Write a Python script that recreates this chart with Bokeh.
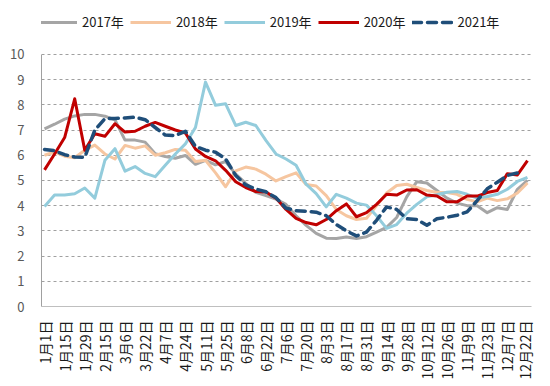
import math
from bokeh.plotting import figure
from bokeh.models import FixedTicker, Legend, LegendItem, Range1d
from bokeh.embed import file_html
from bokeh.resources import INLINE

date_labels = ["1月1日", "1月15日", "1月29日", "2月15日", "3月6日", "3月22日", "4月7日",
               "4月24日", "5月11日", "5月25日", "6月8日", "6月22日", "7月6日", "7月20日",
               "8月3日", "8月17日", "8月31日", "9月14日", "9月28日", "10月12日", "10月26日",
               "11月9日", "11月23日", "12月7日", "12月22日"]

y2017 = [7.05, 7.23, 7.43, 7.56, 7.62, 7.62, 7.55, 7.4, 6.6, 6.6, 6.52, 6.06, 5.95, 5.88,
         5.99, 5.64, 5.8, 5.62, 5.75, 5.25, 4.88, 4.53, 4.4, 4.26, 4.05, 3.6, 3.22, 2.9,
         2.71, 2.7, 2.76, 2.7, 2.77, 2.95, 3.14, 3.53, 4.35, 4.95, 4.9, 4.6, 4.3, 4.1, 4.0,
         4.0, 3.72, 3.92, 3.85, 4.65, 5.0]
y2018 = [6.0, 6.13, 5.96, 5.9, 6.2, 6.4, 6.05, 5.85, 6.39, 6.28, 6.37, 6.0, 6.1, 6.23, 6.2,
         5.75, 5.8, 5.3, 4.75, 5.38, 5.53, 5.45, 5.25, 4.98, 5.15, 5.3, 4.84, 4.78, 4.4,
         3.85, 3.6, 3.45, 3.5, 4.0, 4.5, 4.8, 4.85, 4.72, 4.6, 4.52, 4.52, 4.45, 4.25, 4.15,
         4.3, 4.2, 4.27, 4.5, 4.9]
y2019 = [3.97, 4.42, 4.42, 4.47, 4.7, 4.3, 5.8, 6.26, 5.37, 5.55, 5.28, 5.15, 5.6, 6.05,
         6.45, 7.1, 8.9, 7.98, 8.04, 7.18, 7.31, 7.18, 6.59, 6.05, 5.85, 5.6, 4.85, 4.48,
         3.95, 4.45, 4.3, 4.1, 4.02, 3.6, 3.1, 3.25, 3.7, 4.05, 4.35, 4.43, 4.53, 4.56, 4.45,
         4.3, 4.36, 4.45, 4.65, 4.96, 5.12]
y2020 = [5.42, 6.05, 6.7, 8.24, 6.2, 6.85, 6.75, 7.25, 6.92, 6.95, 7.15, 7.3, 7.15, 7.0,
         6.88, 6.25, 5.95, 5.78, 5.4, 4.95, 4.72, 4.56, 4.54, 4.3, 3.85, 3.5, 3.33, 3.24,
         3.45, 3.8, 4.07, 3.56, 3.72, 4.05, 4.45, 4.42, 4.62, 4.63, 4.42, 4.38, 4.15, 4.15,
         4.38, 4.38, 4.52, 4.6, 5.27, 5.22, 5.79]
y2021 = [6.23, 6.18, 6.02, 5.93, 5.92, 7.0, 7.45, 7.46, 7.48, 7.51, 7.41, 7.1, 6.8, 6.78,
         6.95, 6.35, 6.2, 6.12, 5.85, 5.2, 4.82, 4.66, 4.55, 4.32, 3.9, 3.8, 3.78, 3.74,
         3.6, 3.25, 3.0, 2.8, 2.95, 3.42, 3.95, 3.85, 3.48, 3.45, 3.22, 3.48, 3.54, 3.62,
         3.75, 4.2, 4.67, 4.93, 5.2, 5.3, float("nan")]

series_names = ["2017年", "2018年", "2019年", "2020年", "2021年"]

n = len(y2017)
xs = list(range(n))
FONT = "Noto Sans CJK SC"

# frame extends above the value 10 so the legend sits inside it
p = figure(width=534, height=386, output_backend="svg", toolbar_location=None,
           x_range=Range1d(-0.3, n - 1 + 0.4), y_range=Range1d(0, 11.82),
           min_border_left=41, min_border_right=3, min_border_top=8,
           min_border_bottom=80)
p.outline_line_color = None
p.background_fill_color = "white"

r1 = p.line(xs, y2017, line_color="#A5A5A5", line_width=3, line_join="round")
r2 = p.line(xs, y2018, line_color="#F6C6A0", line_width=3, line_join="round")
r3 = p.line(xs, y2019, line_color="#93CCDC", line_width=3, line_join="round")
r4 = p.line(xs, y2020, line_color="#C00000", line_width=3, line_join="round")
r5 = p.line(xs, y2021, line_color="#1F4E79", line_width=3.5, line_dash="9 6",
            line_join="round", line_cap="round")

# axes
p.xaxis.ticker = FixedTicker(ticks=list(range(0, n, 2)))
p.xaxis.major_label_overrides = {i * 2: lab for i, lab in enumerate(date_labels)}
p.xaxis.major_label_orientation = math.pi / 2
p.xaxis.major_tick_line_color = None
p.xaxis.minor_tick_line_color = None
p.xaxis.axis_line_color = "#BFBFBF"
p.xaxis.major_label_text_font = FONT
p.xaxis.major_label_text_font_size = "14px"
p.xaxis.major_label_text_color = "#1a1a1a"
p.xaxis.major_label_standoff = 8

p.yaxis.ticker = FixedTicker(ticks=list(range(0, 11)))
p.yaxis.bounds = (0, 10)
p.yaxis.major_tick_line_color = None
p.yaxis.minor_tick_line_color = None
p.yaxis.axis_line_color = "#A0A0A0"
p.yaxis.major_label_text_font = FONT
p.yaxis.major_label_text_font_size = "13px"
p.yaxis.major_label_text_color = "#595959"
p.yaxis.major_label_standoff = 11

p.xgrid.visible = False
p.ygrid.ticker = FixedTicker(ticks=list(range(1, 11)))
p.ygrid.grid_line_color = "#A0A0A0"
p.ygrid.grid_line_dash = "3 3"
p.ygrid.grid_line_width = 1

legend = Legend(items=[LegendItem(label=series_names[0], renderers=[r1]),
                       LegendItem(label=series_names[1], renderers=[r2]),
                       LegendItem(label=series_names[2], renderers=[r3]),
                       LegendItem(label=series_names[3], renderers=[r4]),
                       LegendItem(label=series_names[4], renderers=[r5])],
                orientation="horizontal", location=(-5, 275),
                border_line_color=None, background_fill_alpha=0,
                label_text_font=FONT, label_text_font_size="13px",
                label_text_color="#1a1a1a",
                glyph_width=41, glyph_height=16, label_standoff=5, spacing=6,
                padding=0, margin=0, label_height=16)
p.add_layout(legend)

open("out.html", "w").write(file_html(p, INLINE))
